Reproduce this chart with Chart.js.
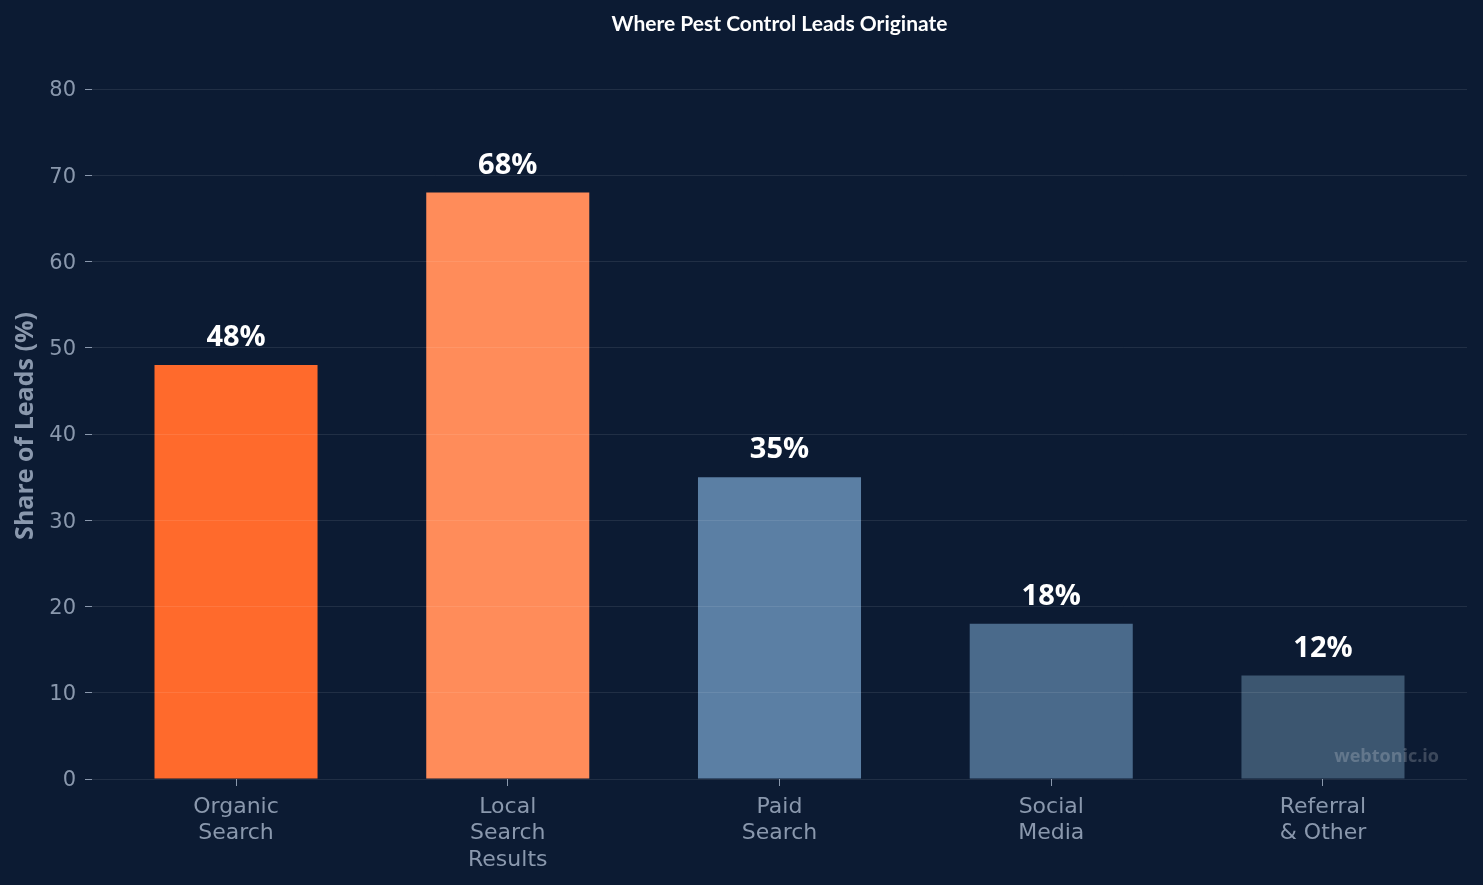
<!DOCTYPE html>
<html lang="en">
<head>
    <meta charset="UTF-8">
    <title>Where Pest Control Leads Originate</title>
    <script src="https://cdn.jsdelivr.net/npm/chart.js"></script>
    <style>
        body { margin: 0; background: #0c1b33; }
        #wrap { width: 1483px; height: 885px; position: relative; }
    </style>
</head>
<body>
    <div id="wrap"><canvas id="leadsChart"></canvas></div>

    <script>
        // chart data
        const categories = [
            ['Organic', 'Search'],
            ['Local', 'Search', 'Results'],
            ['Paid', 'Search'],
            ['Social', 'Media'],
            ['Referral', '& Other']
        ];
        const shares = [48, 68, 35, 18, 12];
        const barColors = ['#ff6a2c', '#ff8c5a', '#5b7fa4', '#4a6a8b', '#3c5670'];
        const yTicks = [0, 10, 20, 30, 40, 50, 60, 70, 80];

        const muted = '#8a98ad';

        // title, axis title, value labels and watermark
        const overlay = {
            id: 'overlay',
            afterDatasetsDraw(chart) {
                const ctx = chart.ctx;
                const area = chart.chartArea;
                const meta = chart.getDatasetMeta(0);
                ctx.save();
                ctx.fillStyle = '#ffffff';
                ctx.textAlign = 'center';
                ctx.textBaseline = 'alphabetic';
                ctx.font = 'bold 29px "Open Sans"';
                meta.data.forEach((bar, i) => {
                    ctx.fillText(shares[i] + '%', bar.x, bar.y - 19);
                });

                ctx.font = 'bold 21px Lato';
                ctx.fillText('Where Pest Control Leads Originate', (area.left + area.right) / 2, 31);

                // y axis title
                ctx.save();
                ctx.translate(26, 426);
                ctx.rotate(-Math.PI / 2);
                ctx.textBaseline = 'middle';
                ctx.fillStyle = muted;
                ctx.font = 'bold 25px "Open Sans"';
                ctx.fillText('Share of Leads (%)', 0, 0);
                ctx.restore();

                ctx.textAlign = 'right';
                ctx.font = 'bold 18px "Open Sans"';
                ctx.fillStyle = 'rgba(255, 255, 255, 0.2)';
                ctx.fillText('webtonic.io', area.right - 28, area.bottom - 17);
                ctx.restore();
            }
        };

        new Chart(document.getElementById('leadsChart'), {
            type: 'bar',
            data: {
                datasets: [{
                    data: shares.map((v, i) => ({ x: i, y: v })),
                    backgroundColor: barColors,
                    borderWidth: 0,
                    categoryPercentage: 1,
                    barPercentage: 0.6
                }]
            },
            options: {
                responsive: true,
                maintainAspectRatio: false,
                animation: false,
                layout: { padding: { top: 89, right: 16, left: 0, bottom: 0 } },
                plugins: {
                    legend: { display: false },
                    title: { display: false },
                    tooltip: { enabled: false }
                },
                scales: {
                    x: {
                        type: 'linear',
                        min: -0.53,
                        max: 4.53,
                        offset: false,
                        afterFit(scale) { scale.height = 106; },
                        border: { display: false },
                        grid: {
                            offset: false,
                            drawOnChartArea: false,
                            tickLength: 7,
                            tickColor: muted
                        },
                        ticks: {
                            stepSize: 1,
                            includeBounds: false,
                            autoSkip: false,
                            maxRotation: 0,
                            padding: 8,
                            color: muted,
                            font: { family: '"DejaVu Sans"', size: 22, lineHeight: 1.2 },
                            callback: v => Number.isInteger(v) ? categories[v] : ''
                        }
                    },
                    y: {
                        min: 0,
                        max: 80,
                        afterFit(scale) { scale.width = 92; },
                        afterBuildTicks(scale) { scale.ticks = yTicks.map(v => ({ value: v })); },
                        border: { display: false },
                        grid: {
                            z: 1,
                            color: 'rgba(255, 255, 255, 0.09)',
                            tickLength: 7,
                            tickColor: muted
                        },
                        ticks: {
                            padding: 9,
                            labelOffset: 2,
                            color: muted,
                            font: { family: '"DejaVu Sans"', size: 21 }
                        }
                    }
                }
            },
            plugins: [overlay]
        });
    </script>
</body>
</html>
